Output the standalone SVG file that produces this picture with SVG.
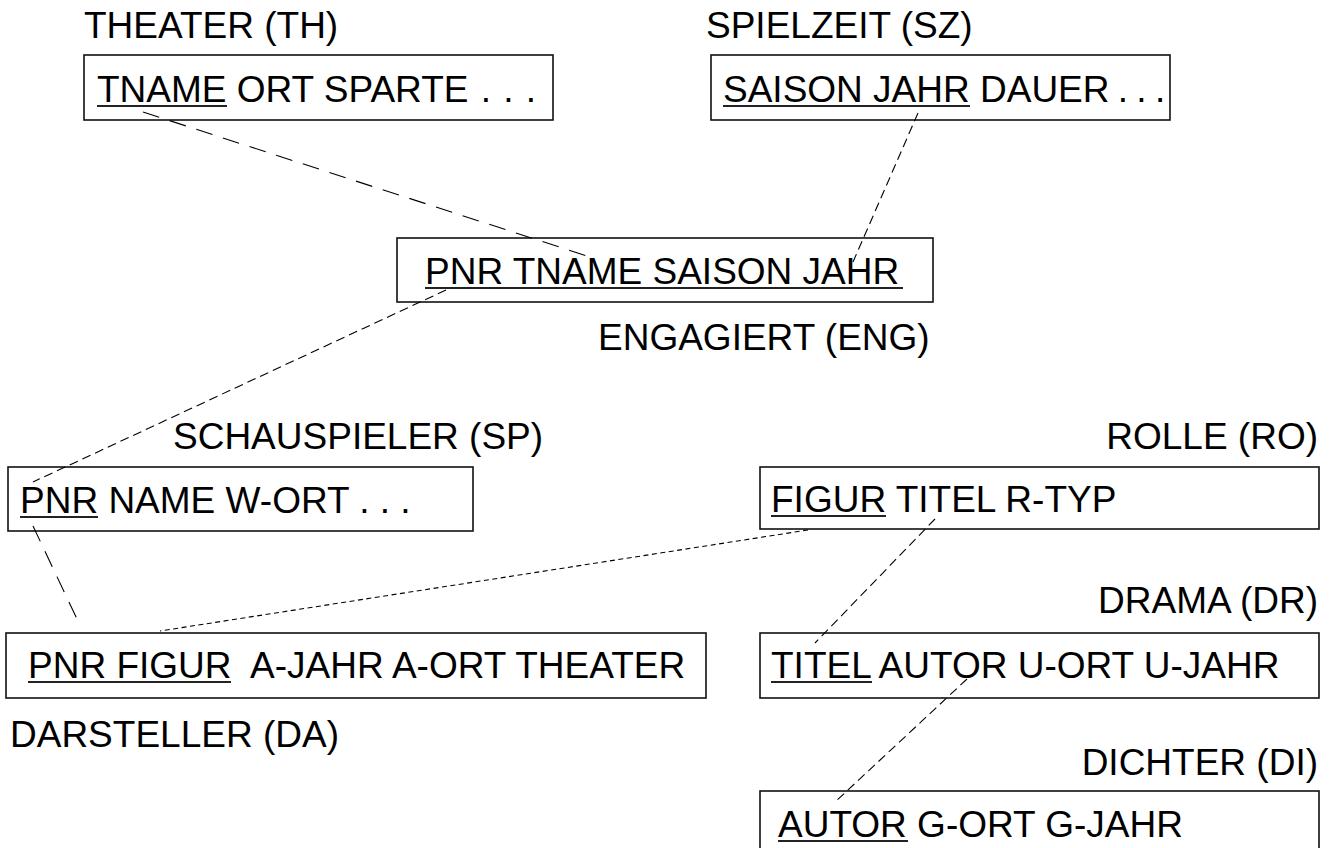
<svg xmlns="http://www.w3.org/2000/svg" width="1332" height="848" viewBox="0 0 1332 848">
<style>
text{font-family:"Liberation Sans",Arial,sans-serif;font-size:37px;fill:#000}
.box{fill:#fff;stroke:#111;stroke-width:1.6}
.ul{stroke:#222;stroke-width:1.8}
.c{fill:none;stroke:#000;stroke-width:1.1}
.long{stroke-dasharray:17 11}
.med{stroke-dasharray:9 5}
.short{stroke-dasharray:5 3.5}
</style>
<rect width="1332" height="848" fill="#fff"/>
<g id="TH">
<text x="84" y="38">THEATER (TH)</text>
<rect class="box" x="84" y="55" width="469" height="65"/>
<text x="97" y="102">TNAME ORT SPARTE<tspan style="word-spacing:2px"> . . .</tspan></text>
<line class="ul" x1="97" y1="106" x2="227" y2="106"/>
</g>
<g id="SZ">
<text x="706" y="38">SPIELZEIT (SZ)</text>
<rect class="box" x="711" y="55" width="459" height="65"/>
<text x="723" y="102">SAISON JAHR DAUER<tspan style="word-spacing:-2px"> . . .</tspan></text>
<line class="ul" x1="723" y1="106" x2="970" y2="106"/>
</g>
<g id="ENG">
<rect class="box" x="397" y="238" width="536" height="64"/>
<text x="425" y="284">PNR TNAME SAISON JAHR</text>
<line class="ul" x1="425" y1="288" x2="903" y2="288"/>
<text x="598" y="350">ENGAGIERT (ENG)</text>
</g>
<g id="SP">
<text x="173" y="449">SCHAUSPIELER (SP)</text>
<rect class="box" x="8" y="467" width="465" height="64"/>
<text x="20" y="513">PNR NAME W-ORT . . .</text>
<line class="ul" x1="20" y1="517" x2="98" y2="517"/>
</g>
<g id="RO">
<text x="1318" y="449" text-anchor="end">ROLLE (RO)</text>
<rect class="box" x="760" y="467" width="559" height="62"/>
<text x="771" y="512">FIGUR TITEL R-TYP</text>
<line class="ul" x1="771" y1="516" x2="886" y2="516"/>
</g>
<g id="DA">
<rect class="box" x="6" y="633" width="700" height="65"/>
<text x="28" y="678" xml:space="preserve">PNR FIGUR  A-JAHR A-ORT THEATER</text>
<line class="ul" x1="28" y1="682" x2="231" y2="682"/>
<text x="10" y="747">DARSTELLER (DA)</text>
</g>
<g id="DR">
<text x="1318" y="613" text-anchor="end">DRAMA (DR)</text>
<rect class="box" x="760" y="633" width="559" height="65"/>
<text x="771" y="678">TITEL AUTOR U-ORT U-JAHR</text>
<line class="ul" x1="771" y1="682" x2="872" y2="682"/>
</g>
<g id="DI">
<text x="1318" y="775" text-anchor="end">DICHTER (DI)</text>
<rect class="box" x="760" y="791" width="559" height="70"/>
<text x="778" y="837">AUTOR G-ORT G-JAHR</text>
<line class="ul" x1="778" y1="841" x2="908" y2="841"/>
</g>
<g id="connectors">
<line class="c long" x1="143" y1="112" x2="590" y2="257"/>
<line class="c med" x1="918" y1="113" x2="853" y2="262"/>
<line class="c med" x1="446" y1="290" x2="33" y2="482"/>
<line class="c long" x1="33" y1="526" x2="77" y2="619"/>
<line class="c short" x1="808" y1="530" x2="160" y2="631"/>
<line class="c med" x1="935" y1="519" x2="815" y2="643"/>
<line class="c med" x1="967" y1="679" x2="834" y2="803"/>
</g>
</svg>
